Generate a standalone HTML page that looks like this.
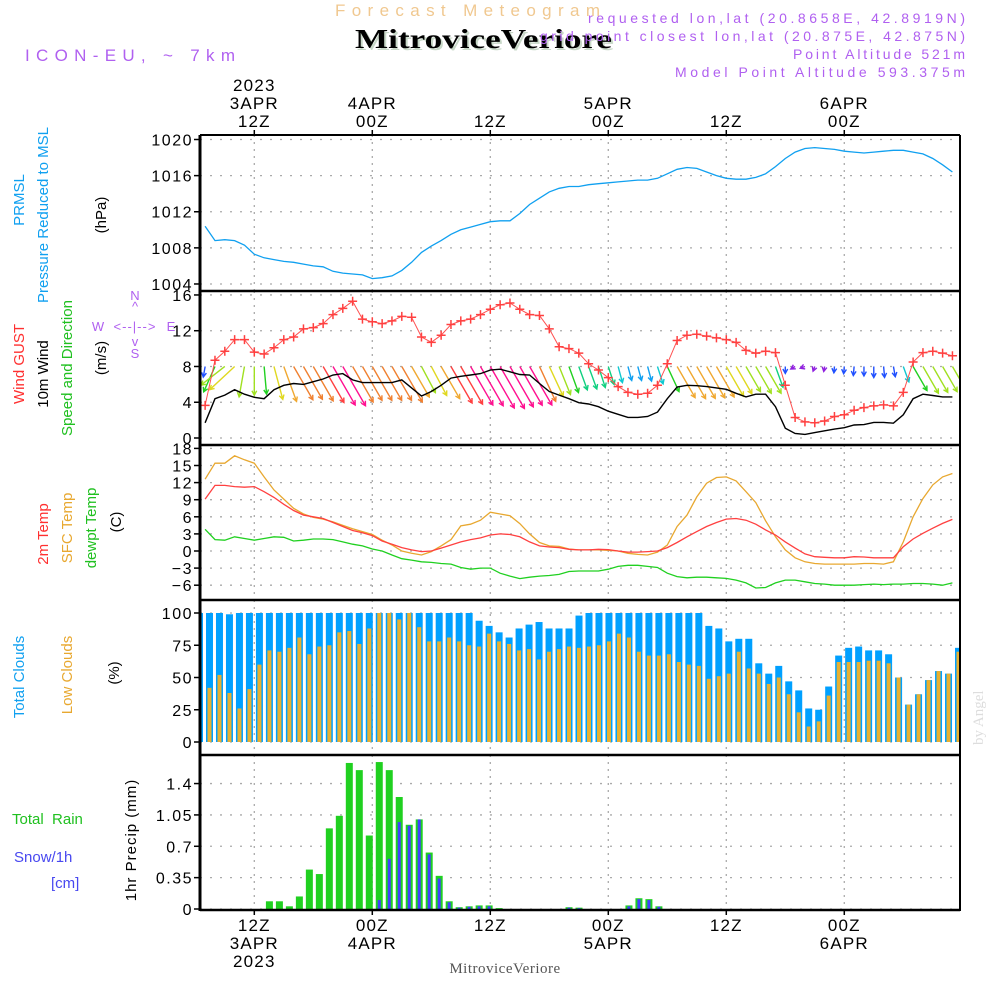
<!DOCTYPE html>
<html><head><meta charset="utf-8"><style>
html,body{margin:0;padding:0;background:#fff;}
svg{display:block;font-family:"Liberation Sans",sans-serif;}
</style></head><body>
<svg id="chart" width="1000" height="1000" viewBox="0 0 1000 1000" xmlns="http://www.w3.org/2000/svg">
<rect width="1000" height="1000" fill="#fff"/>
<text x="335" y="16" font-size="17" fill="#f0c890" textLength="265" lengthAdjust="spacing">Forecast Meteogram</text>
<text x="357" y="50" font-size="27" font-weight="bold" font-family="Liberation Serif,serif" fill="#c8d8c8" textLength="257" lengthAdjust="spacingAndGlyphs">MitroviceVeriore</text>
<text x="355" y="48" font-size="27" font-weight="bold" font-family="Liberation Serif,serif" fill="#000" textLength="257" lengthAdjust="spacingAndGlyphs">MitroviceVeriore</text>
<g font-size="14" fill="#b060f0">
<text x="588" y="23" textLength="377" lengthAdjust="spacing">requested lon,lat (20.8658E, 42.8919N)</text>
<text x="540" y="41" textLength="425" lengthAdjust="spacing">grid point closest lon,lat (20.875E, 42.875N)</text>
<text x="793" y="59" textLength="172" lengthAdjust="spacing">Point Altitude 521m</text>
<text x="675" y="77" textLength="290" lengthAdjust="spacing">Model Point Altitude 593.375m</text>
</g>
<text x="25" y="61" font-size="17" fill="#b060f0" textLength="210" lengthAdjust="spacing">ICON-EU, ~ 7km</text>
<text transform="translate(983,745) rotate(-90)" font-size="15" font-family="Liberation Serif,serif" fill="#ddd">by Angel</text>
<text x="505" y="973" font-size="15" font-family="Liberation Serif,serif" fill="#555" text-anchor="middle" letter-spacing="0.5">MitroviceVeriore</text>

<g font-size="15">
<text transform="translate(24,200) rotate(-90)" fill="#10a0f0" text-anchor="middle">PRMSL</text>
<text transform="translate(48,215) rotate(-90)" fill="#10a0f0" text-anchor="middle">Pressure Reduced to MSL</text>
<text transform="translate(106,215) rotate(-90)" fill="#000" text-anchor="middle">(hPa)</text>
<text transform="translate(24,364) rotate(-90)" fill="#ff3030" text-anchor="middle">Wind GUST</text>
<text transform="translate(48,374) rotate(-90)" fill="#000" text-anchor="middle">10m Wind</text>
<text transform="translate(72,368) rotate(-90)" fill="#20c020" text-anchor="middle">Speed and Direction</text>
<text transform="translate(106,358) rotate(-90)" fill="#000" text-anchor="middle">(m/s)</text>
<text transform="translate(48,534) rotate(-90)" fill="#ff3030" text-anchor="middle">2m Temp</text>
<text transform="translate(72,528) rotate(-90)" fill="#e8a830" text-anchor="middle">SFC Temp</text>
<text transform="translate(96,528) rotate(-90)" fill="#20c020" text-anchor="middle">dewpt Temp</text>
<text transform="translate(121,522) rotate(-90)" fill="#000" text-anchor="middle">(C)</text>
<text transform="translate(24,677) rotate(-90)" fill="#10a0f0" text-anchor="middle">Total Clouds</text>
<text transform="translate(72,675) rotate(-90)" fill="#e8a830" text-anchor="middle">Low Clouds</text>
<text transform="translate(119,673) rotate(-90)" fill="#000" text-anchor="middle">(%)</text>
<text x="12" y="824" fill="#20c020" xml:space="preserve">Total  Rain</text>
<text x="14" y="862" fill="#4848f0">Snow/1h</text>
<text x="51" y="888" fill="#4848f0">[cm]</text>
<text transform="translate(136,840) rotate(-90)" fill="#000" text-anchor="middle" letter-spacing="1">1hr Precip (mm)</text>
</g>
<g fill="#b060f0" font-size="13" text-anchor="middle">
<text x="135" y="300">N</text><text x="135" y="311">^</text>
<text x="98" y="331">W</text><text x="135" y="331" letter-spacing="1">&lt;--|--&gt;</text><text x="171" y="331">E</text>
<text x="135" y="346">v</text><text x="135" y="358">S</text>
</g>
<g id="plots"></g>
</svg>
<script>
// ---------- data (hourly, hours since 3APR 00Z, h = 7..83) ----------
const startHour = 7;
const pressure = [1010.4,1008.8,1008.9,1008.8,1008.3,1007.3,1006.9,1006.7,1006.5,1006.4,1006.2,1006.0,1005.9,1005.4,1005.2,1005.1,1005.0,
1004.6,1004.7,1004.9,1005.5,1006.4,1007.5,1008.2,1008.8,1009.5,1010.0,1010.3,1010.6,1010.9,1011.0,1011.0,1011.8,
1012.8,1013.5,1014.2,1014.6,1014.8,1014.8,1015.0,1015.1,1015.2,1015.3,1015.4,1015.5,1015.5,1015.7,
1016.2,1016.7,1016.9,1016.8,1016.4,1016.0,1015.7,1015.6,1015.6,1015.8,1016.2,1017.0,1017.9,1018.6,1019.0,1019.1,1019.0,1018.9,1018.7,1018.6,1018.5,1018.6,1018.7,1018.8,1018.8,1018.6,1018.4,1017.9,1017.2,1016.4];
const gust = [3.65,8.7,9.7,11.0,11.0,9.6,9.4,10.1,11.0,11.3,12.2,12.35,12.8,13.8,14.5,15.3,13.3,13.0,12.8,13.1,13.6,13.5,11.3,10.7,11.5,12.7,13.1,13.3,13.8,14.4,14.9,15.1,14.4,13.8,13.7,12.2,10.2,10.0,9.5,8.3,
7.6,6.75,5.75,5.1,4.9,5.0,5.9,8.3,10.9,11.5,11.6,11.4,11.2,11.0,10.7,9.8,9.5,9.7,9.55,5.9,2.3,1.8,1.7,1.9,2.4,2.6,3.1,3.4,3.6,3.7,3.6,5.1,8.5,9.55,9.7,9.5,9.2];
const wind = [1.7,4.4,4.8,5.4,4.9,4.55,4.4,5.4,5.9,6.1,6.0,6.3,6.6,7.05,7.2,6.5,6.2,6.2,6.2,6.2,6.5,5.6,4.7,5.2,5.9,6.7,6.9,7.05,7.2,7.6,7.7,7.4,7.1,7.05,6.1,5.2,4.8,4.4,3.95,3.8,
3.5,3.0,2.65,2.3,2.3,2.4,2.9,4.4,5.7,5.9,5.85,5.75,5.6,5.45,5.0,4.6,4.9,4.9,3.5,1.1,0.5,0.4,0.6,0.8,1.0,1.15,1.45,1.5,1.75,1.75,1.65,2.6,4.4,4.9,4.75,4.6,4.6];
const windDir = [10,24,52,47,10,0,355,345,340,330,330,330,330,330,330,330,330,330,330,330,330,330,332,332,330,330,330,330,330,330,330,330,330,330,335,335,338,340,340,340,
342,342,345,345,345,345,342,335,330,330,330,330,330,330,330,330,330,330,340,0,60,70,20,10,5,5,5,0,0,355,350,340,330,330,330,330,330];
const temp2m = [9.1,11.5,11.5,11.3,11.2,11.3,10.4,9.4,8.2,7.1,6.3,6.0,5.7,5.0,4.3,3.6,3.2,2.7,1.75,1.2,0.6,0.2,-0.1,0,0.5,1.05,1.6,2.0,2.3,2.8,3.0,2.9,2.5,1.6,0.9,0.7,0.6,0.3,0.2,0.2,
0.3,0.25,0,-0.2,-0.2,-0.1,0,0.6,1.5,2.5,3.4,4.3,5.0,5.6,5.7,5.4,4.7,3.7,2.8,1.6,0.5,-0.5,-1.0,-1.1,-1.2,-1.2,-1.0,-1.05,-1.2,-1.2,-1.2,0.75,2.1,3.1,4.0,4.85,5.55];
const tempSfc = [12.6,15.4,15.4,16.7,16.0,15.4,13.0,10.7,9.1,7.5,6.5,5.9,5.6,5.1,4.5,3.9,3.4,2.9,1.9,1.05,0,-0.4,-0.7,-0.1,0.9,2.0,4.4,4.7,5.4,6.8,6.5,6.2,4.8,3.0,1.5,0.9,0.8,0.35,0.2,0.2,
0.2,0.1,0,-0.4,-0.6,-0.7,-0.2,1.05,4.3,6.3,9.5,11.9,12.9,13.0,12.3,10.4,8.5,5.3,2.5,0.2,-1.2,-1.9,-2.2,-2.3,-2.3,-2.3,-2.3,-2.2,-2.2,-2.3,-1.9,1.6,6.0,9.2,11.6,13.0,13.6];
const dewpt = [3.8,2.0,1.9,2.5,2.2,1.9,2.2,2.5,2.4,1.75,1.9,2.1,2.1,2.0,1.6,1.2,0.9,0.35,0,-0.7,-1.35,-1.6,-1.9,-2.0,-2.2,-2.3,-2.9,-3.2,-3.0,-3.0,-3.9,-4.4,-4.85,-4.6,-4.4,-4.3,-4.1,-3.6,-3.5,-3.5,
-3.5,-3.2,-2.7,-2.5,-2.5,-2.7,-2.9,-3.9,-4.5,-4.7,-4.6,-4.6,-4.7,-4.8,-5.1,-5.6,-6.5,-6.4,-5.6,-5.1,-5.1,-5.4,-5.7,-5.8,-6.0,-6.0,-6.0,-5.9,-5.8,-5.9,-5.8,-5.8,-5.7,-5.7,-5.8,-6.0,-5.6];
// bar series (index 0..76)
const totalClouds = [100,100,100,99,100,100,100,100,100,100,100,100,100,100,100,100,100,100,100,100,100,100,100,100,100,100,100,100,94,90,85,81,88,91,93,88,88,88,98,100,
100,100,100,100,100,100,100,100,100,100,100,90,88,78,80,80,61,53,59,47,40,26,25,43,67,73,74,71,71,68,50,29,37,48,55,53,73];
const lowClouds = [18,42,52,38,26,41,60,71,70,73,81,68,74,75,85,86,76,88,100,100,95,100,89,78,78,81,78,75,74,84,78,76,71,72,64,70,72,74,73,74,
75,78,84,81,70,67,67,68,62,60,59,49,51,53,70,57,53,45,50,37,23,12,16,36,62,62,62,63,63,61,50,29,37,48,55,53,70];
const rain = [0,0,0,0,0,0,0,0.086,0.086,0.03,0.14,0.44,0.39,0.9,1.04,1.63,1.55,0.82,1.64,1.55,1.25,0.94,1.0,0.63,0.37,0.086,0.02,0.03,0.04,0.04,0.01,0,0,0,0,0,0,0.02,0.015,0,0,0,0,0.04,0.12,0.11,0.03,0,0,0,0,0,0,0,0,0,0,0,0,0,0,0,0,0,0,0,0,0,0,0,0,0,0,0,0,0,0];
const snow = [0,0,0,0,0,0,0,0,0,0,0,0,0,0,0,0,0,0,0.1,0.56,0.97,0.93,1.0,0.61,0.34,0.075,0.015,0.025,0.03,0.03,0,0,0,0,0,0,0,0.015,0.01,0,0,0,0,0.03,0.11,0.1,0.025,0,0,0,0,0,0,0,0,0,0,0,0,0,0,0,0,0,0,0,0,0,0,0,0,0,0,0,0,0,0];
const tickHours = [12,24,36,48,60,72];
const tickTop = [["2023","3APR","12Z"],["4APR","00Z"],["12Z"],["5APR","00Z"],["12Z"],["6APR","00Z"]];
const tickBottom = [["12Z","3APR","2023"],["00Z","4APR"],["12Z"],["00Z","5APR"],["12Z"],["00Z","6APR"]];
const pressTicks = [1004,1008,1012,1016,1020];
const windTicks = [0,4,8,12,16];
const tempTicks = [-6,-3,0,3,6,9,12,15,18];
const cloudTicks = [0,25,50,75,100];
const precipTicks = [0,0.35,0.7,1.05,1.4];
const precipTickLabels = ["0","0.35","0.7","1.05","1.4"];

// ---------- axes ----------
const L = 200, R = 960;
const xH = h => 372.3 + (h - 24) * 9.833;
const xB = i => 199.5 + i * 9.987;
const yP = v => 139.5 + (1020 - v) * 9.03;
const yW = v => 438 - v * 8.94;
const yT = v => 551 - v * 5.7;
const yC = v => 742 - v * 1.29;
const yR = v => 909 - v * 89.6;
const panels = [
  {name:'pressure', top:135, bot:291, y:yP, ticks:pressTicks, labels:pressTicks.map(String)},
  {name:'wind', top:291, bot:445, y:yW, ticks:windTicks, labels:windTicks.map(String)},
  {name:'temperature', top:445, bot:600, y:yT, ticks:tempTicks, labels:tempTicks.map(v=>v<0?'\u2212'+(-v):String(v))},
  {name:'clouds', top:600, bot:755, y:yC, ticks:cloudTicks, labels:cloudTicks.map(String)},
  {name:'precip', top:755, bot:910, y:yR, ticks:precipTicks, labels:precipTickLabels}
];
const NS = 'http://www.w3.org/2000/svg';
const root = document.getElementById('plots');
function mk(tag, attrs, parent) {
  const e = document.createElementNS(NS, tag);
  for (const k in attrs) e.setAttribute(k, attrs[k]);
  (parent || root).appendChild(e);
  return e;
}
const defs = mk('defs', {});
panels.forEach((p, k) => {
  const cp = mk('clipPath', {id: 'clip' + k}, defs);
  mk('rect', {x: L, y: p.top, width: R - L, height: p.bot - p.top}, cp);
});
// grid + ticks
panels.forEach((p, k) => {
  const g = mk('g', {});
  
  
  tickHours.forEach(h => {
    mk('line', {x1: xH(h), x2: xH(h), y1: p.top, y2: p.bot, stroke: '#aaa', 'stroke-width': 1.3, 'stroke-dasharray': '2,5'}, g);
  });
  p.ticks.forEach((t, j) => {
    const y = p.y(t);
    mk('line', {x1: L, x2: R, y1: y, y2: y, stroke: '#aaa', 'stroke-width': 1.3, 'stroke-dasharray': '2,8'}, g);
    mk('line', {x1: L - 6, x2: L, y1: y, y2: y, stroke: '#000', 'stroke-width': 1.5}, g);
    const tx = mk('text', {x: L - 7, y: y + 6, 'font-size': 16, 'letter-spacing': 1.5, 'text-anchor': 'end', fill: '#000'}, g);
    
    
    tx.textContent = p.labels[j];
  });
});
function line(arr, yf, color, name, k, w) {
  const pts = arr.map((v, i) => xH(startHour + i).toFixed(1) + ',' + yf(v).toFixed(1)).join(' ');
  const pl = mk('polyline', {points: pts, fill: 'none', stroke: color, 'stroke-width': w || 1.3, 'clip-path': 'url(#clip' + k + ')'});
  
  
  return pl;
}
line(pressure, yP, '#10a0f0', 'pressure-line', 0);
// wind arrows
function windColor(v) {
  if (v < 1) return '#9020e0';
  if (v < 2) return '#2050ff';
  if (v < 2.5) return '#10a0f0';
  if (v < 3) return '#10c8d0';
  if (v < 4) return '#10d080';
  if (v < 4.5) return '#20d020';
  if (v < 5) return '#a0e020';
  if (v < 5.5) return '#e0d820';
  if (v < 6) return '#f0a830';
  if (v < 6.6) return '#f08030';
  if (v < 7) return '#ff4040';
  return '#ff1090';
}
const ga = mk('g', {'clip-path': 'url(#clip1)'});


wind.forEach((v, i) => {
  const to = (windDir[i] + 180) * Math.PI / 180;
  const len = Math.max(v * 6.3, 5);
  const x0 = xH(startHour + i), y0 = yW(8);
  const x1 = x0 + Math.sin(to) * len, y1 = y0 - Math.cos(to) * len;
  const c = windColor(v);
  const a = Math.atan2(y1 - y0, x1 - x0);
  const ah = 5;
  const d = 'M' + x0 + ',' + y0 + 'L' + x1 + ',' + y1 +
    'M' + (x1 - ah * Math.cos(a - 0.5)) + ',' + (y1 - ah * Math.sin(a - 0.5)) + 'L' + x1 + ',' + y1 +
    'L' + (x1 - ah * Math.cos(a + 0.5)) + ',' + (y1 - ah * Math.sin(a + 0.5));
  const p = mk('path', {d: d, stroke: c, 'stroke-width': 1.4, fill: 'none'}, ga);
  
  
});
line(wind, yW, '#000', 'wind-speed-line', 1, 1.4);
line(gust, yW, '#ff5050', 'gust-line', 1, 1);
const gm = mk('g', {'clip-path': 'url(#clip1)', stroke: '#ff4040', 'stroke-width': 1.5});


gust.forEach((v, i) => {
  const x = xH(startHour + i), y = yW(v);
  const m = mk('path', {d: 'M' + (x - 4.5) + ',' + y + 'h9M' + x + ',' + (y - 4.5) + 'v9'}, gm);
  
  
});
line(tempSfc, yT, '#e8a830', 'sfc-temp-line', 2);
line(temp2m, yT, '#ff4040', 't2m-line', 2);
line(dewpt, yT, '#20d020', 'dewpt-line', 2);
// bars
function bars(arr, yf, color, width, name, k) {
  const g = mk('g', {'clip-path': 'url(#clip' + k + ')', fill: color});
  
  
  arr.forEach((v, i) => {
    if (v <= 0) return;
    const y = yf(v), y0 = yf(0);
    const r = mk('rect', {x: xB(i) - width / 2, y: y, width: width, height: y0 - y}, g);
    
    
  });
}
bars(totalClouds, yC, '#00a0ff', 7, 'total-clouds', 3);
bars(lowClouds, yC, '#e8b030', 4, 'low-clouds', 3);
bars(rain, yR, '#20d020', 7, 'rain', 4);
bars(snow, yR, '#4040ff', 3, 'snow', 4);
// borders
const gb = mk('g', {stroke: '#000', fill: 'none'});


mk('line', {x1: L, x2: L, y1: 135, y2: 911, 'stroke-width': 3}, gb);
mk('line', {x1: R, x2: R, y1: 135, y2: 911, 'stroke-width': 2}, gb);
[135, 291, 445, 600, 755, 910].forEach(y => mk('line', {x1: L, x2: R, y1: y, y2: y, 'stroke-width': y === 135 ? 2 : 2.5}, gb));
// time labels
tickHours.forEach((h, j) => {
  const x = xH(h);
  mk('line', {x1: x, x2: x, y1: 130, y2: 135, stroke: '#000', 'stroke-width': 1.5});
  mk('line', {x1: x, x2: x, y1: 910, y2: 915, stroke: '#000', 'stroke-width': 1.5});
  const top = tickTop[j];
  top.forEach((s, n) => {
    const t = mk('text', {x: x, y: 127 - (top.length - 1 - n) * 18, 'font-size': 17, 'letter-spacing': 1.2, 'text-anchor': 'middle', fill: '#000'});
    
    
    t.textContent = s;
  });
  tickBottom[j].forEach((s, n) => {
    const t = mk('text', {x: x, y: 931 + n * 18, 'font-size': 17, 'letter-spacing': 1.2, 'text-anchor': 'middle', fill: '#000'});
    
    
    t.textContent = s;
  });
});
</script>
</body></html>
